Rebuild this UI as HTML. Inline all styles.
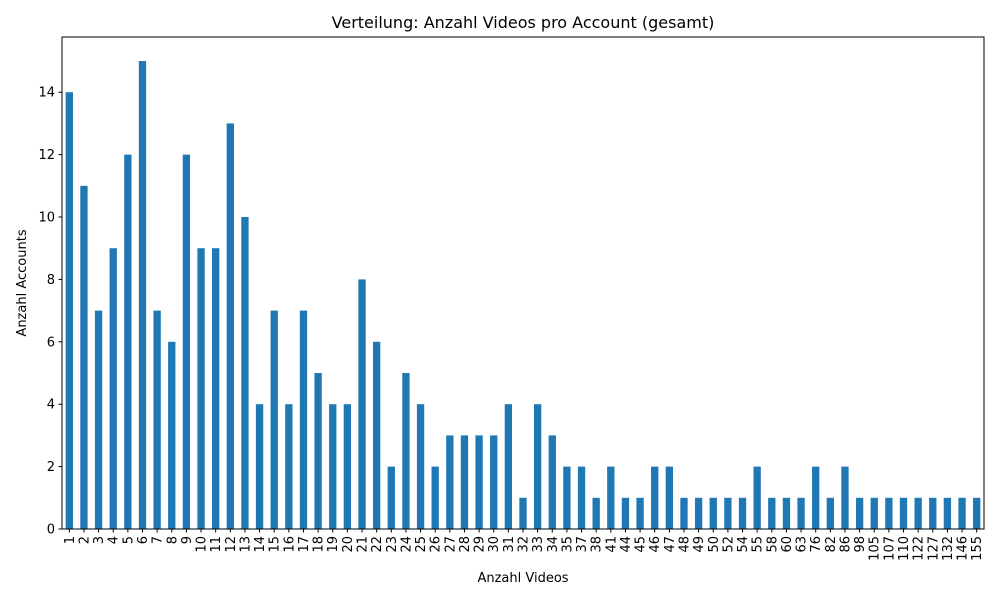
<!DOCTYPE html>
<html><head><meta charset="utf-8"><style>
body{margin:0;background:#fff;font-family:"Liberation Sans","DejaVu Sans",sans-serif;}
svg text{font-family:"DejaVu Sans","Liberation Sans",sans-serif;}
</style></head><body>
<svg id="chart" width="1000" height="600" xmlns="http://www.w3.org/2000/svg"></svg>
<script>
const categories=[1,2,3,4,5,6,7,8,9,10,11,12,13,14,15,16,17,18,19,20,21,22,23,24,25,26,27,28,29,30,31,32,33,34,35,37,38,41,44,45,46,47,48,49,50,52,54,55,58,60,63,76,82,86,98,105,107,110,122,127,132,146,155];
const counts=[14,11,7,9,12,15,7,6,12,9,9,13,10,4,7,4,7,5,4,4,8,6,2,5,4,2,3,3,3,3,4,1,4,3,2,2,1,2,1,1,2,2,1,1,1,1,1,2,1,1,1,2,1,2,1,1,1,1,1,1,1,1,1];
const yTicks=[0,2,4,6,8,10,12,14];
const svg=document.getElementById('chart');
const NS='http://www.w3.org/2000/svg';
const L=62,R=984,T=37,B=529,yMax=15.77;
const n=categories.length, step=(R-L)/n;
const xC=i=>L+step*(i+0.5);
const yS=v=>B-(v/yMax)*(B-T);
function mk(tag,attrs,parent){const e=document.createElementNS(NS,tag);for(const k in attrs)e.setAttribute(k,attrs[k]);(parent||svg).appendChild(e);return e;}
const bars=mk('g',{});


counts.forEach((v,i)=>{
  const r=mk('rect',{x:xC(i)-step/4,y:yS(v),width:step/2,height:B-yS(v),fill:'#1f77b4'},bars);
  
  
});
const frame=mk('rect',{x:L,y:T,width:R-L,height:B-T,fill:'none',stroke:'#000','stroke-width':1});


yTicks.forEach(t=>{
  const y=yS(t);
  mk('line',{x1:L-3.5,x2:L,y1:y,y2:y,stroke:'#000'});
  const tx=mk('text',{x:L-7,y:y+4.5,'text-anchor':'end','font-size':13});
  tx.textContent=t;
  
  
});
categories.forEach((c,i)=>{
  const x=xC(i);
  mk('line',{x1:x,x2:x,y1:B,y2:B+3.5,stroke:'#000'});
  const tx=mk('text',{x:0,y:0,'text-anchor':'end','font-size':13,transform:`translate(${x+4.5},${B+7}) rotate(-90)`});
  tx.textContent=c;
  
  
});
const title=mk('text',{x:(L+R)/2,y:28,'text-anchor':'middle','font-size':16});
title.textContent='Verteilung: Anzahl Videos pro Account (gesamt)';


const xl=mk('text',{x:(L+R)/2,y:582,'text-anchor':'middle','font-size':13});
xl.textContent='Anzahl Videos';


const yl=mk('text',{x:0,y:0,'text-anchor':'middle','font-size':13,transform:`translate(26,${(T+B)/2}) rotate(-90)`});
yl.textContent='Anzahl Accounts';


</script>
</body></html>
